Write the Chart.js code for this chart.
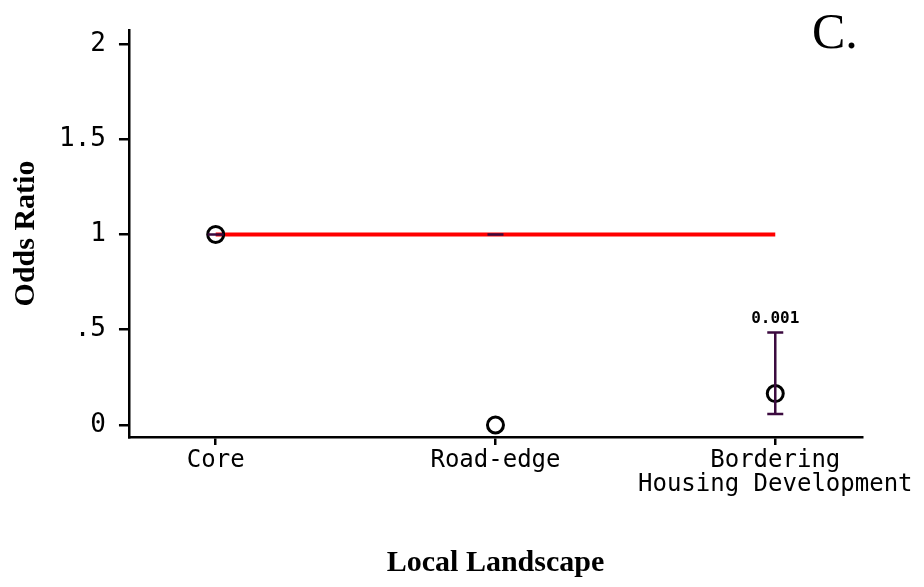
<!DOCTYPE html>
<html>
<head>
<meta charset="utf-8">
<script src="https://cdn.jsdelivr.net/npm/chart.js@4.4.1/dist/chart.umd.min.js"></script>
<style>
  html, body { margin: 0; padding: 0; background: #fff; }
  #wrap { position: relative; width: 924px; height: 587px; }
  #panel {
    position: absolute; left: 812px; top: 2px;
    font: 50px "Liberation Serif", serif; color: #000;
  }
</style>
</head>
<body>
<div id="wrap">
  <canvas id="canvas__odds"></canvas>
  <div id="panel">C.</div>
</div>
<script>
const ctxOdds = document.querySelector("#canvas__odds");

// categories (x positions 0,1,2)
const landscapes = ['Core', 'Road-edge', ['Bordering', 'Housing Development']];
const landscapePos = [0, 1, 2];

// odds ratios and 95% CI
const oddsRatio = [1, 0, 0.165];
const ciLow = [1, 1, 0.058];
const ciHigh = [1, 1, 0.485];
const pLabels = ['', '', '0.001'];

// reference line at OR = 1
const refLine = [1, 1];

// y tick labels
const yTickValues = [0, 0.5, 1, 1.5, 2];
const yTickLabels = ['0', '.5', '1', '1.5', '2'];

const monoFont = '"DejaVu Sans Mono", monospace';
const serifFont = '"Liberation Serif", "Times New Roman", serif';

// error bars + p value text
const errorBars = {
  id: 'errorBars',
  afterDatasetsDraw(chart) {
    const {ctx, scales: {x, y}} = chart;
    ctx.save();
    ctx.strokeStyle = '#3b0a3f';
    ctx.lineWidth = 2.5;
    landscapePos.forEach((pos, i) => {
      const px = x.getPixelForValue(pos);
      const top = y.getPixelForValue(ciHigh[i]);
      const bot = y.getPixelForValue(ciLow[i]);
      ctx.beginPath();
      ctx.moveTo(px, top); ctx.lineTo(px, bot);
      ctx.moveTo(px - 8, top); ctx.lineTo(px + 8, top);
      ctx.moveTo(px - 8, bot); ctx.lineTo(px + 8, bot);
      ctx.stroke();
      if (pLabels[i]) {
        ctx.fillStyle = '#000';
        ctx.font = 'bold 16px ' + monoFont;
        ctx.textAlign = 'center';
        ctx.textBaseline = 'bottom';
        ctx.fillText(pLabels[i], px, top - 6);
      }
    });
    ctx.restore();
  }
};

const oddsConfig = {
  type: 'scatter',
  data: {
    datasets: [
      {
        type: 'line',
        label: 'Reference',
        data: refLine.map((v, i) => ({x: landscapePos[i * 2], y: v})),
        borderColor: '#ff0000',
        borderWidth: 4,
        pointRadius: 0,
        order: 2
      },
      {
        label: 'Odds Ratio',
        data: oddsRatio.map((v, i) => ({x: landscapePos[i], y: v})),
        pointStyle: 'circle',
        pointRadius: 8,
        pointBorderWidth: 3,
        borderColor: '#000',
        backgroundColor: 'rgba(0,0,0,0)',
        order: 1
      }
    ]
  },
  options: {
    responsive: false,
    animation: false,
    layout: { padding: { top: 30, right: 62, bottom: 6, left: 8 } },
    plugins: {
      legend: { display: false },
      tooltip: { enabled: false }
    },
    scales: {
      x: {
        type: 'linear',
        min: -0.31,
        max: 2.31,
        afterBuildTicks: (scale) => { scale.ticks = landscapePos.map(v => ({value: v})); },
        ticks: {
          callback: (v) => landscapes[landscapePos.indexOf(v)],
          color: '#000',
          font: { family: monoFont, size: 24, lineHeight: 1.0 },
          padding: 4,
          maxRotation: 0,
          autoSkip: false
        },
        grid: { drawOnChartArea: false, color: '#000', lineWidth: 2.5, tickLength: 8 },
        border: { color: '#000', width: 2.5 },
        title: {
          display: true,
          text: 'Local Landscape',
          color: '#000',
          font: { family: serifFont, size: 30, weight: 'bold' },
          padding: { top: 44, bottom: 0 }
        }
      },
      y: {
        min: -0.063,
        max: 2.073,
        afterBuildTicks: (scale) => { scale.ticks = yTickValues.map(v => ({value: v})); },
        ticks: {
          callback: (v) => yTickLabels[yTickValues.indexOf(v)],
          color: '#000',
          font: { family: monoFont, size: 26 },
          padding: 13
        },
        grid: { drawOnChartArea: false, color: '#000', lineWidth: 2.5, tickLength: 10 },
        border: { color: '#000', width: 2.5 },
        title: {
          display: true,
          text: 'Odds Ratio',
          color: '#000',
          font: { family: serifFont, size: 30, weight: 'bold' },
          padding: { top: 0, bottom: 2 }
        }
      }
    }
  },
  plugins: [errorBars]
};

ctxOdds.width = 924;
ctxOdds.height = 587;
const oddsChart = new Chart(ctxOdds, oddsConfig);
</script>
</body>
</html>
